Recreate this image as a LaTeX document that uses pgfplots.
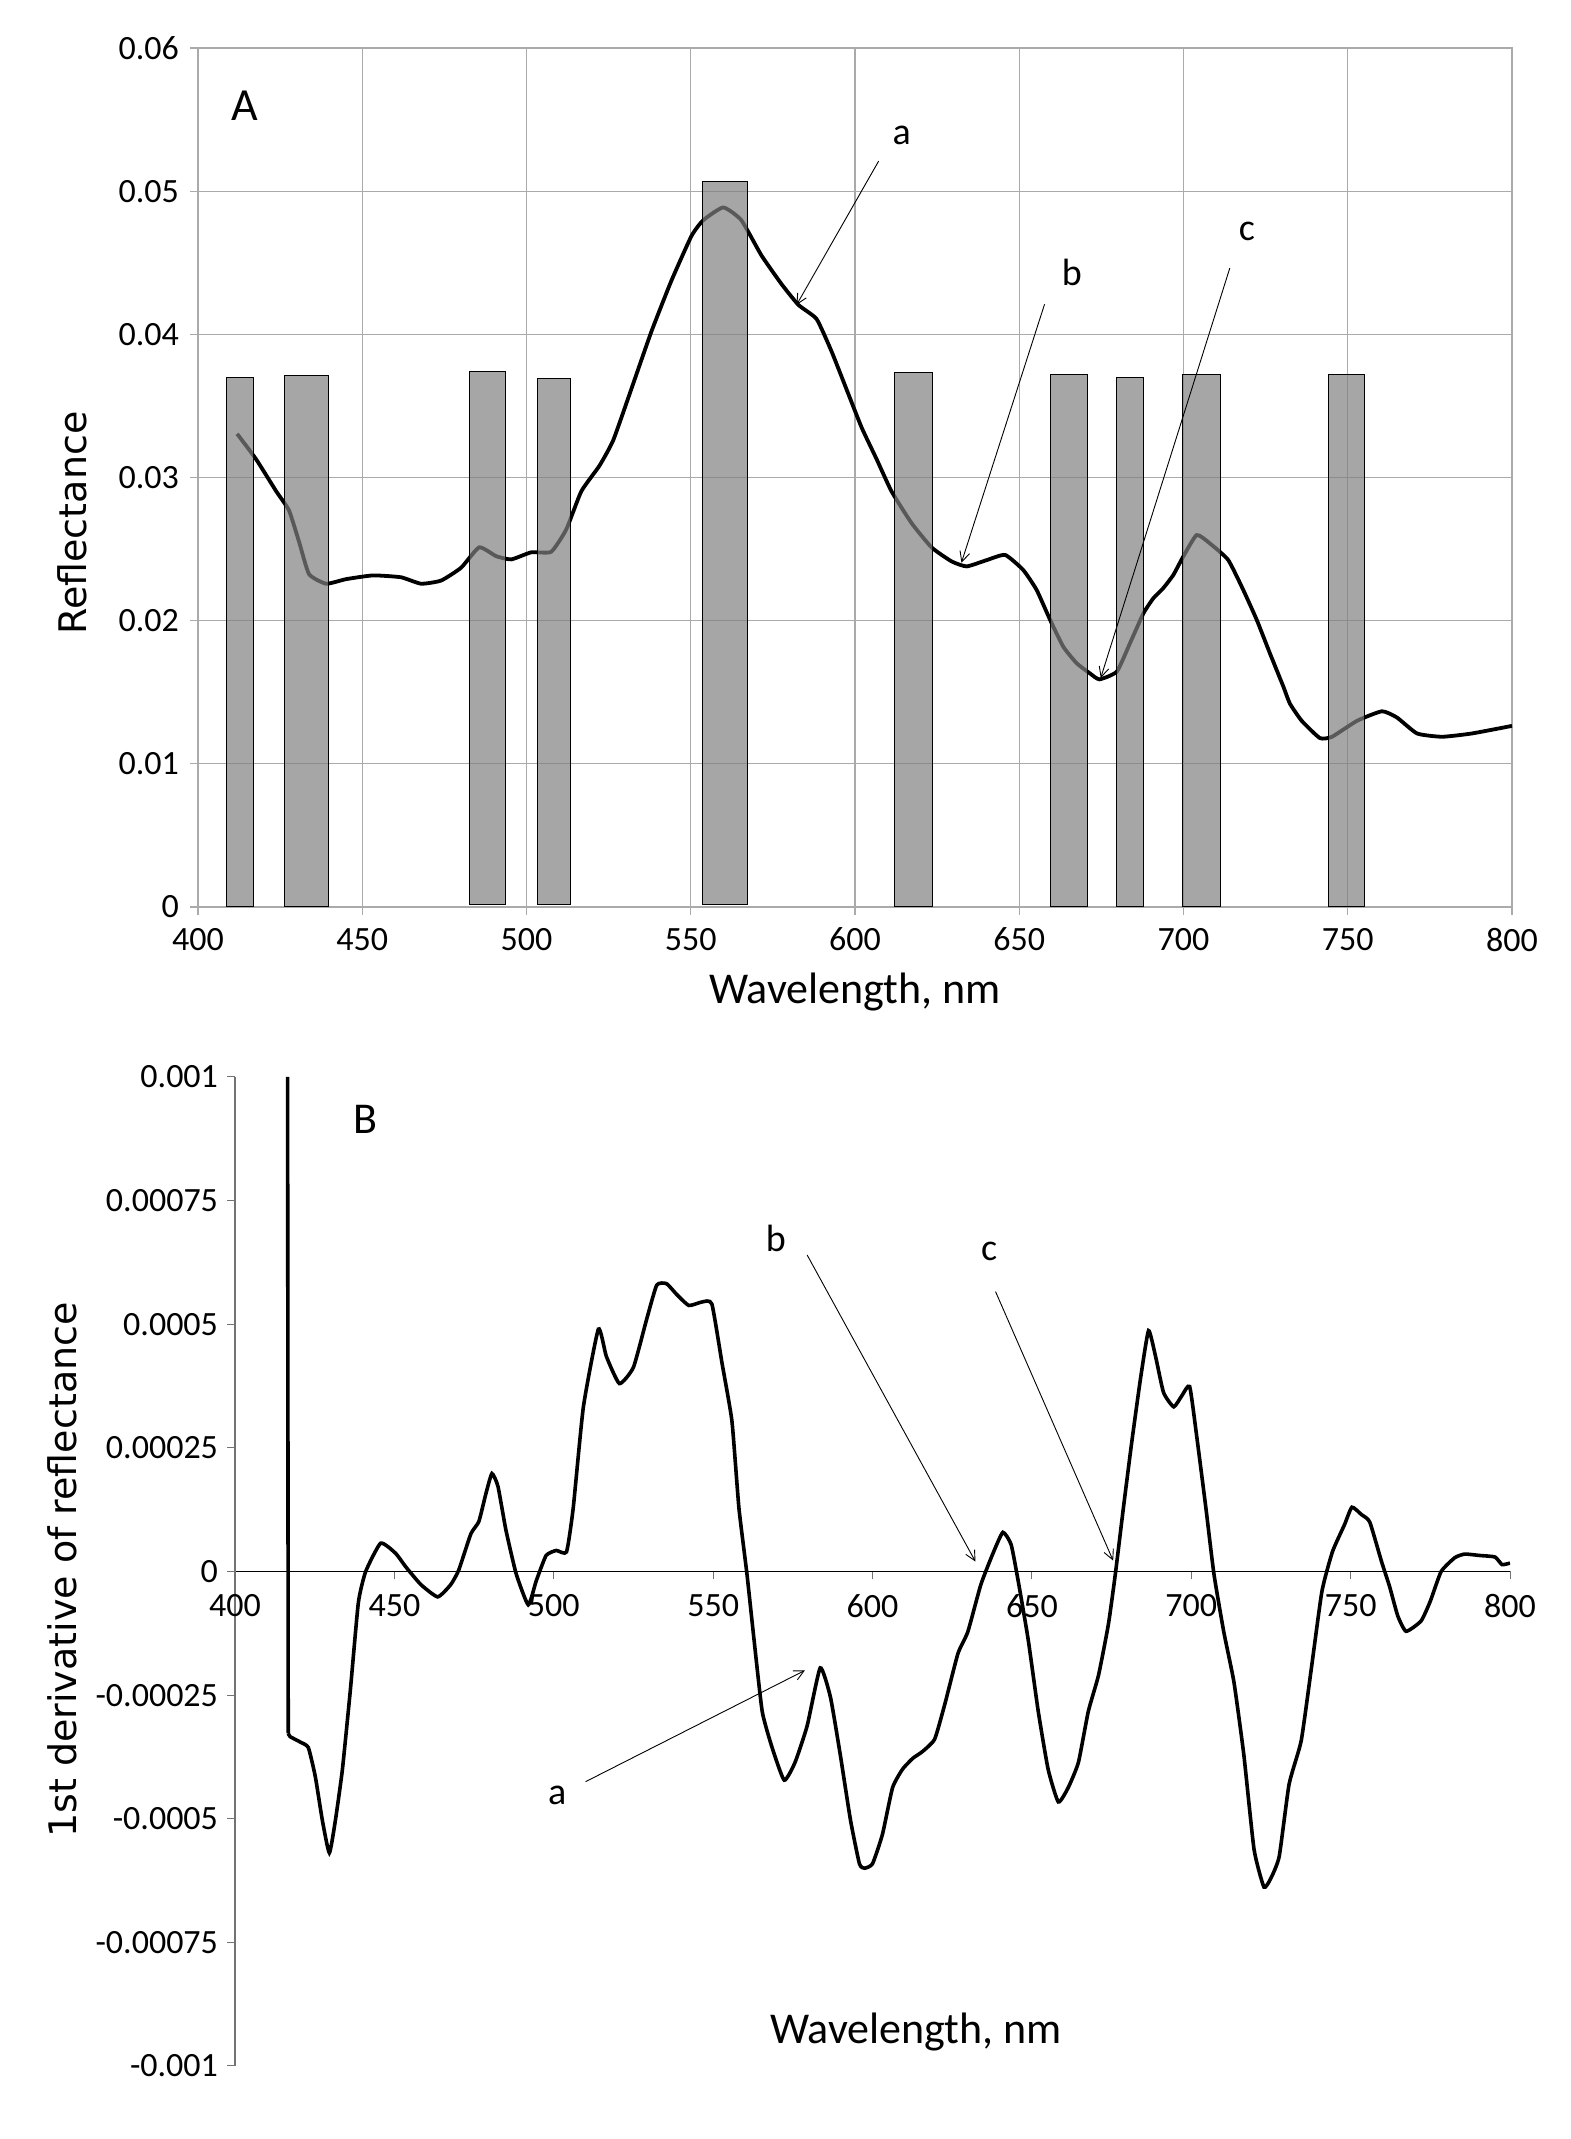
\documentclass[border=0pt]{standalone}
\usepackage{fontspec}
\setmainfont{Carlito}
\newfontfamily\dejavu{DejaVu Sans}
\usepackage{pgfplots}
\pgfplotsset{compat=1.18}
\usetikzlibrary{arrows.meta}
\definecolor{gridgray}{RGB}{170,170,170}
\definecolor{barfill}{RGB}{128,128,128}
\pgfplotstableread{
nm r
411.9 0.03305
417.7 0.03127
423.8 0.02904
427.7 0.02770
430.8 0.02548
433.8 0.02325
439.0 0.02258
445.1 0.02290
453.3 0.02316
461.8 0.02303
467.9 0.02258
474.0 0.02280
480.1 0.02370
485.6 0.02512
490.8 0.02450
495.4 0.02428
501.4 0.02477
507.5 0.02481
512.1 0.02637
516.7 0.02904
522.2 0.03082
526.4 0.03260
531.9 0.03617
538.0 0.04018
544.1 0.04374
550.2 0.04686
553.8 0.04797
559.9 0.04886
565.4 0.04797
571.5 0.04552
577.6 0.04352
582.8 0.04205
588.3 0.04107
592.8 0.03884
597.4 0.03617
602.0 0.03350
606.6 0.03127
611.1 0.02904
617.2 0.02682
623.3 0.02512
629.4 0.02414
634.0 0.02379
640.1 0.02423
645.7 0.02459
651.2 0.02354
655.3 0.02214
659.4 0.02005
663.4 0.01818
667.5 0.01702
671.5 0.01632
674.4 0.01590
679.7 0.01644
683.7 0.01842
687.8 0.02051
690.8 0.02156
693.8 0.02226
696.9 0.02319
699.9 0.02447
704.0 0.02598
708.0 0.02540
713.6 0.02424
718.2 0.02214
722.3 0.02005
726.3 0.01772
730.4 0.01539
732.4 0.01420
736.0 0.01300
741.5 0.01180
745.2 0.01189
752.8 0.01300
760.4 0.01367
765.0 0.01323
771.1 0.01212
778.7 0.01189
787.8 0.01212
800.0 0.01265
}\refl
\pgfplotstableread{
nm d
416.5 0.00100
416.7 -0.000327
}\spike
\pgfplotstableread{
nm d
416.7 -0.000327
417.3 -0.000334
420.5 -0.000345
423.0 -0.000356
425.2 -0.000415
427.4 -0.000503
429.6 -0.000569
431.5 -0.000503
433.7 -0.000400
436.2 -0.000239
438.7 -0.000063
441.0 0.000000
445.7 0.0000572
450.4 0.0000367
453.5 0.0000100
458.3 -0.0000264
463.6 -0.0000513
467.7 -0.0000264
470.2 0.0000030
474.0 0.0000762
476.5 0.000101
478.7 0.000157
480.6 0.000198
482.5 0.000172
485.0 0.0000836
488.2 -0.0000044
492.0 -0.0000674
494.5 -0.0000190
497.6 0.0000323
500.8 0.0000425
504.0 0.0000396
506.1 0.000128
509.3 0.000333
514.0 0.000490
516.5 0.000435
520.6 0.000380
525.0 0.000413
529.1 0.000509
532.3 0.000579
535.4 0.000582
538.6 0.000560
542.4 0.000538
546.5 0.000545
549.6 0.000541
552.8 0.000421
555.9 0.000304
558.1 0.000128
560.6 -0.0000044
562.8 -0.000136
565.4 -0.000283
568.5 -0.000356
572.3 -0.000422
575.7 -0.000386
579.5 -0.000312
583.6 -0.000195
586.8 -0.000254
589.9 -0.000371
593.1 -0.000503
595.9 -0.000591
597.5 -0.000600
600.0 -0.000591
603.1 -0.000532
606.3 -0.000437
609.4 -0.000400
612.6 -0.000378
615.7 -0.000364
619.5 -0.000339
622.7 -0.000268
626.8 -0.000166
629.9 -0.000122
634.0 -0.0000264
637.8 0.0000367
640.9 0.0000792
643.5 0.0000543
645.7 -0.0000190
648.8 -0.000136
652.0 -0.000283
655.1 -0.000400
658.3 -0.000466
661.4 -0.000437
664.6 -0.000386
667.7 -0.000283
670.9 -0.000210
674.0 -0.000107
676.2 -0.0000044
678.7 0.000128
681.3 0.000260
684.1 0.000391
686.6 0.000487
688.8 0.000435
691.3 0.000362
694.5 0.000333
697.0 0.000355
699.5 0.000374
701.7 0.000274
704.6 0.000128
707.1 -0.0000044
710.2 -0.000122
713.4 -0.000224
716.5 -0.000371
719.7 -0.000562
722.8 -0.000638
725.0 -0.000620
727.6 -0.000576
730.7 -0.000430
734.5 -0.000342
737.7 -0.000195
741.0 -0.000040
744.3 0.0000400
748.1 0.0000950
750.4 0.000130
753.4 0.000115
756.0 0.000100
759.7 0.0000200
762.2 -0.000030
764.8 -0.000090
767.4 -0.000121
772.1 -0.000100
775.0 -0.0000600
778.4 0.0000000
782.7 0.0000280
785.8 0.0000352
790.6 0.0000323
795.3 0.0000293
797.5 0.0000140
800.0 0.0000170
}\deriv
\begin{document}
\begin{tikzpicture}
\path[use as bounding box] (0,0) rectangle (785.5bp,1069.5bp);
% ---------------- A ----------------
\begin{axis}[
  at={(99bp,616bp)}, anchor=south west, scale only axis,
  width=657bp, height=429.5bp,
  xmin=400, xmax=800, ymin=0, ymax=0.06,
  scaled y ticks=false, scaled x ticks=false,
  xtick={400,450,500,550,600,650,700,750,800},
  ytick={0,0.01,0.02,0.03,0.04,0.05,0.06},
  yticklabels={0,0.01,0.02,0.03,0.04,0.05,0.06},
  /pgf/number format/assume math mode=true,
  grid=major, grid style={color=gridgray, line width=0.6bp},
  axis line style={color=gridgray, line width=0.6bp},
  tick style={color=gridgray, line width=0.6bp},
  tick align=outside, tick pos=left, major tick length=4bp,
  tick label style={font=\fontsize{17bp}{20bp}\selectfont, text=black},
  xticklabel style={yshift=-3bp},
  yticklabel style={xshift=-2bp},
  xlabel={Wavelength, nm},
  xlabel style={at={(axis description cs:0.5,-0.099)}, anchor=center, font=\fontsize{22bp}{26bp}\selectfont},
  ylabel={Reflectance},
  ylabel style={at={(axis description cs:-0.0959,0.447)}, anchor=center, font=\dejavu\fontsize{19bp}{22bp}\selectfont},
]
\addplot[black, line width=1.9bp, smooth, tension=0.3] table[x=nm, y=r] {\refl};
\addplot[draw=black, line width=0.5bp, fill=barfill, fill opacity=0.7] coordinates {(408.8,0) (408.8,0.0370) (417.0,0.0370) (417.0,0)} -- cycle;
\addplot[draw=black, line width=0.5bp, fill=barfill, fill opacity=0.7] coordinates {(426.2,0) (426.2,0.03715) (439.6,0.03715) (439.6,0)} -- cycle;
\addplot[draw=black, line width=0.5bp, fill=barfill, fill opacity=0.7] coordinates {(482.6,0.00015) (482.6,0.03737) (493.5,0.03737) (493.5,0.00015)} -- cycle;
\addplot[draw=black, line width=0.5bp, fill=barfill, fill opacity=0.7] coordinates {(503.3,0.00015) (503.3,0.03693) (513.3,0.03693) (513.3,0.00015)} -- cycle;
\addplot[draw=black, line width=0.5bp, fill=barfill, fill opacity=0.7] coordinates {(553.5,0.00015) (553.5,0.0507) (567.3,0.0507) (567.3,0.00015)} -- cycle;
\addplot[draw=black, line width=0.5bp, fill=barfill, fill opacity=0.7] coordinates {(612.0,0) (612.0,0.03733) (623.6,0.03733) (623.6,0)} -- cycle;
\addplot[draw=black, line width=0.5bp, fill=barfill, fill opacity=0.7] coordinates {(659.4,0) (659.4,0.0372) (670.8,0.0372) (670.8,0)} -- cycle;
\addplot[draw=black, line width=0.5bp, fill=barfill, fill opacity=0.7] coordinates {(679.5,0) (679.5,0.0370) (687.8,0.0370) (687.8,0)} -- cycle;
\addplot[draw=black, line width=0.5bp, fill=barfill, fill opacity=0.7] coordinates {(699.8,0) (699.8,0.0372) (711.4,0.0372) (711.4,0)} -- cycle;
\addplot[draw=black, line width=0.5bp, fill=barfill, fill opacity=0.7] coordinates {(744.0,0) (744.0,0.0372) (755.2,0.0372) (755.2,0)} -- cycle;
\draw[black, line width=0.45bp, -{Straight Barb[length=5bp,width=5bp]}] (axis cs:607.2,0.0521) -- (axis cs:582.2,0.04205);
\draw[black, line width=0.45bp, -{Straight Barb[length=5bp,width=5bp]}] (axis cs:657.7,0.0421) -- (axis cs:632.4,0.02405);
\draw[black, line width=0.45bp, -{Straight Barb[length=5bp,width=5bp]}] (axis cs:714.1,0.04463) -- (axis cs:674.8,0.0160);
\node[font=\fontsize{19bp}{22bp}\selectfont] at (axis cs:614.2,0.0539) {a};
\node[font=\fontsize{19bp}{22bp}\selectfont] at (axis cs:666,0.0443) {b};
\node[font=\fontsize{19bp}{22bp}\selectfont] at (axis cs:719.3,0.0472) {c};
\node[font=\fontsize{23bp}{26bp}\selectfont] at (axis cs:414.2,0.0560) {A};
\end{axis}
% ---------------- B ----------------
\begin{axis}[
  at={(117.5bp,36.5bp)}, anchor=south west, scale only axis,
  width=637.5bp, height=494.5bp,
  xmin=400, xmax=800, ymin=-0.001, ymax=0.001,
  scaled y ticks=false, scaled x ticks=false,
  axis x line=middle, axis y line=left,
  x axis line style={-, black, line width=0.7bp},
  y axis line style={-, black!55, line width=0.6bp},
  hide obscured x ticks=false, hide obscured y ticks=false,
  xtick={400,450,500,550,600,650,700,750,800},
  ytick={-0.001,-0.00075,-0.0005,-0.00025,0,0.00025,0.0005,0.00075,0.001},
  yticklabels={-0.001,-0.00075,-0.0005,-0.00025,0,0.00025,0.0005,0.00075,0.001},
  /pgf/number format/assume math mode=true,
  xtick style={black!55, line width=0.5bp},
  ytick style={black!55, line width=0.5bp},
  tick align=outside, major tick length=4bp,
  tick label style={font=\fontsize{17bp}{20bp}\selectfont, text=black},
  xticklabel style={anchor=north, yshift=-4bp},
  yticklabel style={xshift=-1bp},
  xlabel={Wavelength, nm},
  xlabel style={at={(axis description cs:0.534,0.034)}, anchor=center, font=\fontsize{22bp}{26bp}\selectfont},
  ylabel={1st derivative of reflectance},
  ylabel style={at={(axis description cs:-0.1357,0.5015)}, anchor=center, font=\dejavu\fontsize{19bp}{22bp}\selectfont},
]
\addplot[black, line width=1.8bp] table[x=nm, y=d] {\spike};
\addplot[black, line width=1.8bp, smooth, tension=0.3] table[x=nm, y=d] {\deriv};
\draw[black, line width=0.45bp, -{Straight Barb[length=5bp,width=5bp]}] (axis cs:579.5,0.00064) -- (axis cs:632.3,0.00002);
\draw[black, line width=0.45bp, -{Straight Barb[length=5bp,width=5bp]}] (axis cs:638.6,0.000566) -- (axis cs:675.5,0.000022);
\draw[black, line width=0.45bp, -{Straight Barb[length=5bp,width=5bp]}] (axis cs:510,-0.000425) -- (axis cs:578.8,-0.0002);
\node[font=\fontsize{19bp}{22bp}\selectfont] at (axis cs:569.7,0.000673) {b};
\node[font=\fontsize{19bp}{22bp}\selectfont] at (axis cs:636.6,0.000647) {c};
\node[font=\fontsize{19bp}{22bp}\selectfont] at (axis cs:501.1,-0.000453) {a};
\node[font=\fontsize{22bp}{26bp}\selectfont] at (axis cs:441,0.000915) {B};
\end{axis}
\end{tikzpicture}
\end{document}
